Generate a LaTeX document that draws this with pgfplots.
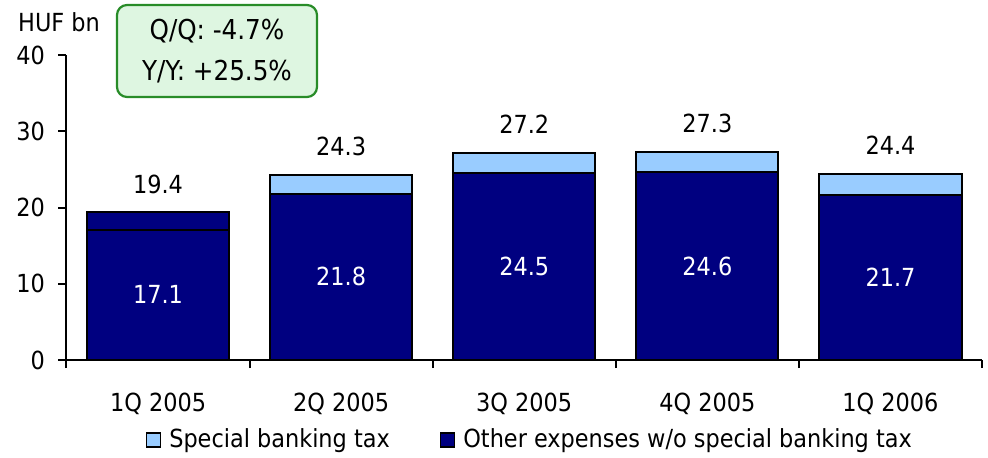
\documentclass[border=0pt]{standalone}
\usepackage{fontspec}
\setmainfont{DejaVu Sans Condensed}
\usepackage{pgfplots}
\pgfplotsset{compat=1.18}
\definecolor{navy}{RGB}{0,0,128}
\definecolor{lightblue}{RGB}{153,204,255}
\definecolor{boxgreen}{RGB}{40,140,40}
\definecolor{boxfill}{RGB}{222,246,225}
\newcommand{\ff}{\fontsize{25}{30}\selectfont}
\begin{document}
\ff
\begin{tikzpicture}
\begin{axis}[
  name=ax, scale only axis, width=915.5bp, height=305bp,
  xmin=-0.5, xmax=4.5, ymin=0, ymax=40,
  axis lines*=left,
  axis line style={line width=2bp},
  every tick/.style={black, line width=2bp},
  tick align=outside,
  major tick length=8bp,
  ytick={0,10,20,30,40},
  xtick={-0.5,0.5,1.5,2.5,3.5,4.5},
  xticklabels={},
  extra x ticks={0,1,2,3,4},
  extra x tick labels={1Q 2005,2Q 2005,3Q 2005,4Q 2005,1Q 2006},
  extra x tick style={major tick length=0pt, tick label style={yshift=-25bp}},
  yticklabel style={xshift=-5bp},
  tick label style={font=\ff},
  /pgf/number format/assume math mode=true,
  ybar, bar width=0.776,
  legend style={at={(axis description cs:0.505,-0.262)}, anchor=center, draw=none,
    legend columns=2, font=\ff, inner sep=0pt,
    nodes={inner sep=0pt},
    /tikz/every odd column/.append style={column sep=8bp},
    /tikz/every even column/.append style={column sep=50bp}},
  legend image code/.code={\draw[#1, draw=black, line width=1.5bp] (0bp,-7bp) rectangle (14bp,7bp);},
]
\addlegendimage{fill=lightblue}
\addlegendentry{Special banking tax}
\addlegendimage{fill=navy}
\addlegendentry{Other expenses w/o special banking tax}
% totals (special banking tax on top)
\addplot[forget plot, bar shift=0pt, fill=lightblue, draw=black, line width=2bp]
  coordinates {(1,24.3) (2,27.2) (3,27.3) (4,24.4)};
\addplot[forget plot, bar shift=0pt, fill=navy, draw=black, line width=2bp]
  coordinates {(0,19.4)};
% other expenses
\addplot[forget plot, bar shift=0pt, fill=navy, draw=black, line width=2bp]
  coordinates {(0,17.1) (1,21.8) (2,24.5) (3,24.6) (4,21.7)};
% total labels
\addplot[forget plot, only marks, mark=none, point meta=explicit symbolic,
  nodes near coords, every node near coord/.style={anchor=base, yshift=19bp, black, font=\ff}]
  coordinates {(0,19.4)[19.4] (1,24.3)[24.3] (2,27.2)[27.2] (3,27.3)[27.3] (4,24.4)[24.4]};
% inside labels
\addplot[forget plot, only marks, mark=none, point meta=explicit symbolic,
  nodes near coords, every node near coord/.style={anchor=center, white, font=\ff}]
  coordinates {(0,8.55)[17.1] (1,10.9)[21.8] (2,12.25)[24.5] (3,12.3)[24.6] (4,10.85)[21.7]};
\end{axis}
\node[anchor=west, inner sep=0pt] at ([xshift=-48.5bp, yshift=338bp]ax.south west) {HUF bn};
\node[draw=boxgreen, fill=boxfill, rounded corners=10bp, line width=2.2bp,
  minimum width=200bp, minimum height=92bp, align=center, inner sep=0pt,
  font=\fontsize{27.5}{41}\selectfont]
  at ([xshift=150.5bp, yshift=309bp]ax.south west) {Q/Q: -4.7\%\\Y/Y: +25.5\%};
\pgfresetboundingbox
\path ([xshift=-66.5bp,yshift=-98bp]ax.south west) rectangle ([xshift=921.5bp,yshift=360bp]ax.south west);
\end{tikzpicture}
\end{document}
